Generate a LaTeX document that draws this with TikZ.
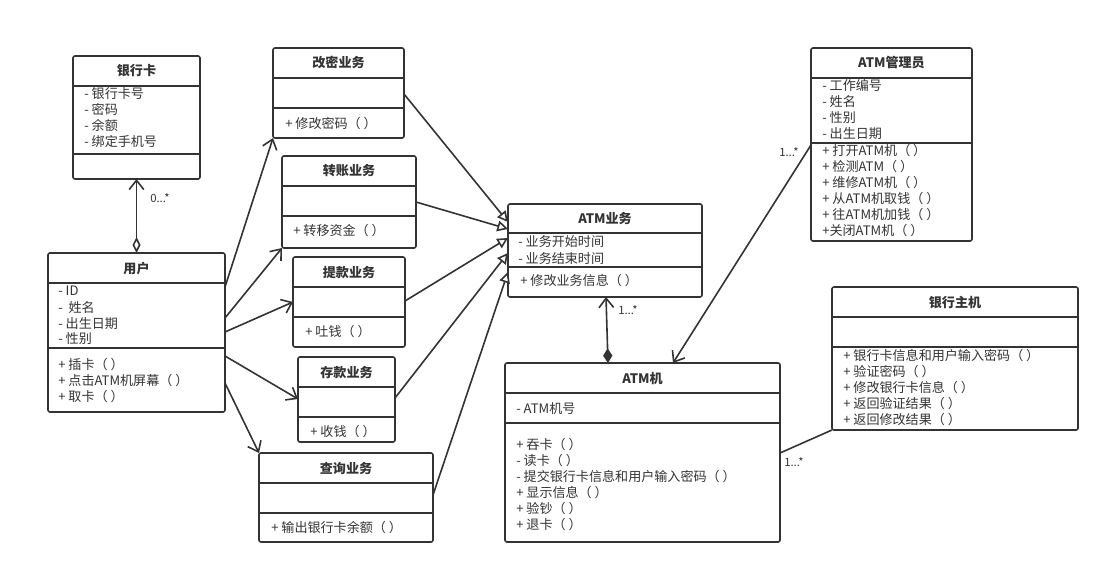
\documentclass[tikz,border=0pt]{standalone}
\usepackage{fontspec}
\setmainfont{Noto Sans CJK SC}
\usetikzlibrary{arrows.meta,fit,calc}
\definecolor{ink}{HTML}{333333}
\tikzset{
  cls/.style={draw=ink, line width=1.2pt, fill=white, rounded corners=1.5pt, inner sep=0pt, outer sep=0pt},
  divline/.style={draw=ink, line width=1.2pt},
  ttl/.style={font=\fontsize{9.8}{12}\selectfont\bfseries, text=ink, inner sep=0pt, anchor=base},
  txt/.style={font=\fontsize{9.8}{12}\selectfont, text=ink, inner sep=0pt, anchor=base west},
  lbl/.style={font=\fontsize{8.5}{10}\selectfont, text=ink, inner sep=0pt, anchor=west},
  conn/.style={draw=ink, line width=1.2pt},
  gen/.style={conn, -{Triangle[open, length=8pt, width=8pt, fill=white]}},
  nav/.style={conn, -{Straight Barb[length=7pt, width=11pt]}},
}
\newcommand\umlclass[8]{%
  \node[cls, fit={(#2,#3) (#4,#5)}] (#1) {};
  \draw[divline] (#2,#6) -- (#4,#6);
  \draw[divline] (#2,#7) -- (#4,#7);
  \node[ttl] (#1-t) at ({(#2+#4)/2}, {(#3+#6)/2+5}) {#8};
}
\newcommand\umllines[4]{%
  \foreach \t [count=\i] in {#4} {\node[txt] (#1-\i) at (#2, {#3+5+16*(\i-1)}) {\t};}
}
\begin{document}
\begin{tikzpicture}[x=0.75pt, y=-0.75pt]
\useasboundingbox (0,0) rectangle (1111,574);

% classes
\umlclass{card}{73}{56}{200}{179}{86}{154}{银行卡}
\umllines{carda}{84}{94}{- 银行卡号, - 密码, - 余额, - 绑定手机号}

\umlclass{user}{48}{253}{225}{412}{283}{348}{用户}
\umllines{usera}{58}{291}{- ID, - \ 姓名, - 出生日期, - 性别}
\umllines{userm}{58}{364}{+ 插卡（ ）, + 点击ATM机屏幕（ ）, + 取卡（ ）}

\umlclass{gm}{273}{48}{404}{138}{78}{108}{改密业务}
\umllines{gmm}{285}{124}{+ 修改密码（ ）}

\umlclass{zz}{282}{156}{416}{248}{186}{216}{转账业务}
\umllines{zzm}{293}{231}{+ 转移资金（ ）}

\umlclass{tk}{293}{257}{405}{347}{287}{317}{提款业务}
\umllines{tkm}{305}{331}{+ 吐钱（ ）}

\umlclass{ck}{298}{357}{395}{442}{387}{417}{存款业务}
\umllines{ckm}{310}{431}{+ 收钱（ ）}

\umlclass{cx}{259}{453}{433}{542}{483}{513}{查询业务}
\umllines{cxm}{271}{527}{+ 输出银行卡余额（ ）}

\umlclass{atmb}{508}{204}{702}{297}{233}{267}{ATM业务}
\umllines{atmba}{518}{242}{- 业务开始时间, - 业务结束时间}
\umllines{atmbm}{520}{281}{+ 修改业务信息（ ）}

\umlclass{atm}{505}{363}{780}{542}{393}{423}{ATM机}
\umllines{atma}{516}{408}{- ATM机号}
\umllines{atmm}{516}{444}{+ 吞卡（ ）, - 读卡（ ）, - 提交银行卡信息和用户输入密码（ ）, + 显示信息（ ）, + 验钞（ ）, + 退卡（ ）}

\umlclass{admin}{811}{48}{972}{241}{78}{143}{ATM管理员}
\umllines{admina}{822}{86}{- 工作编号, - 姓名, - 性别, - 出生日期}
\umllines{adminm}{822}{151}{+ 打开ATM机（ ）, + 检测ATM（ ）, + 维修ATM机（ ）, + 从ATM机取钱（ ）, + 往ATM机加钱（ ）, +关闭ATM机（ ）}

\umlclass{host}{832}{287}{1078}{430}{317}{347}{银行主机}
\umllines{hostm}{843}{355}{+ 银行卡信息和用户输入密码（ ）, + 验证密码（ ）, + 修改银行卡信息（ ）, + 返回验证结果（ ）, + 返回修改结果（ ）}

% connectors
\draw[conn, {Diamond[open, fill=white, length=12pt, width=6pt]}-{Straight Barb[length=7pt, width=11pt]}] (user.north) -- (card.south);
\node[lbl] (l1) at (150,198) {0...*};

\draw[nav] (user.east |- 0,287) -- (gm.south west);
\draw[nav] (user.east |- 0,318) -- (zz.south west);
\draw[nav] (user.east |- 0,332) -- (tk.west |- 0,302);
\draw[nav] (user.east |- 0,356) -- (ck.west |- 0,399);
\draw[nav] (user.east |- 0,383) -- (cx.north west);

\draw[gen] (gm.east |- 0,94) -- (atmb.west |- 0,222);
\draw[gen] (zz.east |- 0,202) -- (atmb.west |- 0,229);
\draw[gen] (tk.east |- 0,301) -- (atmb.west |- 0,238);
\draw[gen] (ck.east |- 0,398) -- (atmb.west |- 0,253);
\draw[gen] (cx.east |- 0,495) -- (atmb.west |- 0,272);

\draw[conn, {Diamond[length=11pt, width=7pt]}-{Straight Barb[length=7pt, width=11pt]}] (atm.north -| 608,0) -- (atmb.south -| 606,0);
\node[lbl] (l2) at (618,310) {1...*};

\draw[nav] (admin.west |- 0,145) -- (atm.north -| 673,0);
\node[lbl] (l3) at (779,152) {1...*};

\draw[conn] (host.south west) -- (atm.east |- 0,453);
\node[lbl] (l4) at (784,462) {1...*};
\end{tikzpicture}
\end{document}
